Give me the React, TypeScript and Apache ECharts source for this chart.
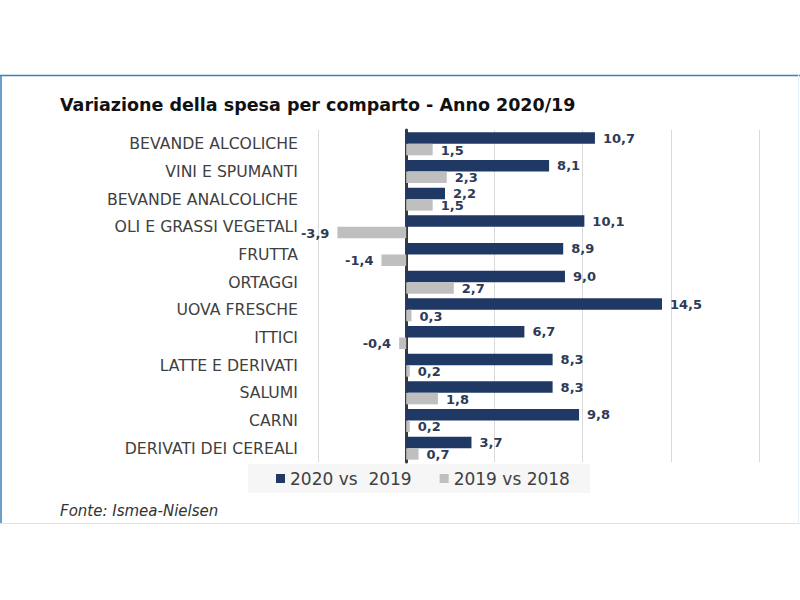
import React, { useEffect, useRef } from "react";
import * as echarts from "echarts";

const categories = [
  "BEVANDE ALCOLICHE",
  "VINI E SPUMANTI",
  "BEVANDE ANALCOLICHE",
  "OLI E GRASSI VEGETALI",
  "FRUTTA",
  "ORTAGGI",
  "UOVA FRESCHE",
  "ITTICI",
  "LATTE E DERIVATI",
  "SALUMI",
  "CARNI",
  "DERIVATI DEI CEREALI",
];
const series2020vs2019 = [10.7, 8.1, 2.2, 10.1, 8.9, 9.0, 14.5, 6.7, 8.3, 8.3, 9.8, 3.7];
const series2019vs2018 = [1.5, 2.3, 1.5, -3.9, -1.4, 2.7, 0.3, -0.4, 0.2, 1.8, 0.2, 0.7];
const seriesNames = ["2020 vs  2019", "2019 vs 2018"];
const title = "Variazione della spesa per comparto - Anno 2020/19";
const source = "Fonte: Ismea-Nielsen";

const fmt = (p: any) => Number(p.value).toFixed(1).replace(".", ",");

export default function App() {
  const ref = useRef<HTMLDivElement>(null);
  useEffect(() => {
    if (!ref.current) return;
    const chart = echarts.init(ref.current, null, { renderer: "svg" });
    const labelStyle = (v: number, dy: number) => ({
      show: true,
      position: v < 0 ? "left" : "right",
      distance: 8,
      offset: [0, dy],
      formatter: fmt,
      color: "#2e3a56",
      fontFamily: "DejaVu Sans",
      fontWeight: "bold",
      fontSize: 13,
      lineHeight: 11,
    });
    chart.setOption({
      animation: false,
      backgroundColor: "#ffffff",
      title: {
        text: title,
        left: 55,
        top: 91,
        textStyle: {
          fontFamily: "DejaVu Sans",
          fontWeight: "bold",
          fontSize: 17.5,
          color: "#111111",
        },
      },
      legend: {
        data: seriesNames,
        left: 248,
        top: 464,
        backgroundColor: "#f6f6f6",
        padding: [6, 20, 6, 28],
        itemGap: 28,
        itemWidth: 9,
        itemHeight: 9,
        icon: "rect",
        textStyle: {
          fontFamily: "DejaVu Sans",
          fontSize: 17,
          color: "#404040",
        },
      },
      grid: { left: 318, right: 41, top: 130, bottom: 138 },
      xAxis: {
        type: "value",
        min: -5,
        max: 20,
        interval: 5,
        axisLabel: { show: false },
        axisLine: { show: false },
        axisTick: { show: false },
        splitLine: { lineStyle: { color: "#d9d9d9", width: 1 } },
      },
      yAxis: {
        type: "category",
        data: categories,
        inverse: true,
        axisTick: { show: false },
        axisLine: { show: true, onZero: true, lineStyle: { color: "#3a3a3a", width: 3 } },
        axisLabel: {
          margin: 20,
          fontFamily: "DejaVu Sans",
          fontSize: 15.7,
          color: "#404040",
        },
      },
      series: [
        {
          name: seriesNames[0],
          type: "bar",
          barWidth: 11.5,
          barGap: "0%",
          itemStyle: { color: "#1f3864" },
          data: series2020vs2019.map((v) => ({ value: v, label: labelStyle(v, 0) })),
        },
        {
          name: seriesNames[1],
          type: "bar",
          barWidth: 11.5,
          barGap: "0%",
          itemStyle: { color: "#bfbfbf" },
          data: series2019vs2018.map((v) => ({ value: v, label: labelStyle(v, 0.5) })),
        },
      ],
      graphic: [
        {
          type: "line",
          shape: { x1: 0, y1: 75.5, x2: 800, y2: 75.5 },
          style: { stroke: "#3b7fc0", lineWidth: 1.5 },
        },
        {
          type: "line",
          shape: { x1: 1, y1: 75, x2: 1, y2: 523 },
          style: { stroke: "#3b7fc0", lineWidth: 1.5 },
        },
        {
          type: "line",
          shape: { x1: 0, y1: 523.5, x2: 800, y2: 523.5 },
          style: { stroke: "#d6e7f4", lineWidth: 1 },
        },
        {
          type: "line",
          shape: { x1: 798.5, y1: 75, x2: 798.5, y2: 523 },
          style: { stroke: "#e3eef7", lineWidth: 1 },
        },
        {
          type: "text",
          left: 60,
          top: 503,
          style: {
            text: source,
            fontFamily: "DejaVu Sans",
            fontStyle: "italic",
            fontSize: 15,
            fill: "#333333",
          },
        },
      ],
    });
    return () => chart.dispose();
  }, []);
  return (
    <div
      ref={ref}
      style={{ width: 800, height: 600, position: "fixed", left: 0, top: 0 }}
    />
  );
}
